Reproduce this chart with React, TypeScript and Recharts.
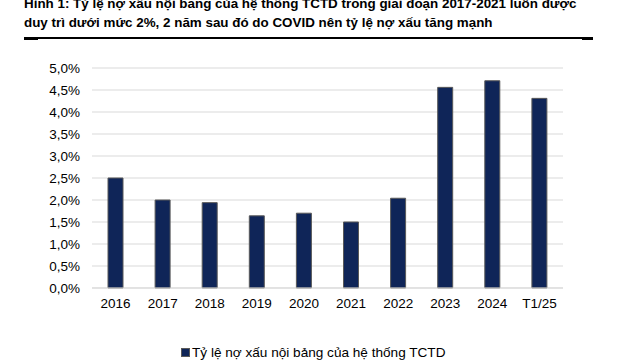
import React from 'react';
import { BarChart, Bar, XAxis, YAxis, CartesianGrid, Legend } from 'recharts';

const categories = ['2016', '2017', '2018', '2019', '2020', '2021', '2022', '2023', '2024', 'T1/25'];
const nplRatio = [2.5, 2.0, 1.94, 1.64, 1.7, 1.5, 2.04, 4.56, 4.71, 4.31];
const yTicks = [0, 0.5, 1, 1.5, 2, 2.5, 3, 3.5, 4, 4.5, 5];
const seriesName = 'Tỷ lệ nợ xấu nội bảng của hệ thống TCTD';
const titleLine1 = 'Hình 1:  Tỷ lệ nợ xấu nội bảng của hệ thống TCTD trong giai đoạn 2017-2021 luôn được';
const titleLine2 = 'duy trì dưới mức 2%, 2 năm sau đó do COVID nên tỷ lệ nợ xấu tăng mạnh';

const data = categories.map((c, i) => ({ name: c, value: nplRatio[i] }));

const NAVY = '#0F2558';
const FONT = '"Liberation Sans", Arial, sans-serif';

const fmt = (v: number) => v.toFixed(1).replace('.', ',') + '%';

export default function App() {
  return (
    <div style={{ position: 'absolute', left: 0, top: 0, width: 640, height: 360, overflow: 'hidden', background: '#fff', fontFamily: FONT }}>
      <div style={{ position: 'absolute', left: 24, top: -6, height: 19, lineHeight: '19px', fontSize: 13.4, fontWeight: 'bold', whiteSpace: 'nowrap', color: '#000' }}>{titleLine1}</div>
      <div style={{ position: 'absolute', left: 24, top: 13, height: 19, lineHeight: '19px', fontSize: 13.4, fontWeight: 'bold', whiteSpace: 'nowrap', color: '#000' }}>{titleLine2}</div>
      <div style={{ position: 'absolute', left: 24, top: 37, width: 569, height: 2, background: '#000' }} />
      <div style={{ position: 'absolute', left: 24, top: 37, width: 14, height: 3, background: '#000' }} />
      <div style={{ position: 'absolute', left: 582, top: 37, width: 11, height: 3, background: '#000' }} />
      <div style={{ position: 'absolute', left: 0, top: 0 }}>
        <BarChart width={640} height={360} data={data} margin={{ top: 68, right: 77, bottom: 42, left: 0 }}>
          <CartesianGrid vertical={false} stroke="#d9d9d9" strokeWidth={1} />
          <XAxis
            dataKey="name"
            tickLine={false}
            axisLine={{ stroke: '#d9d9d9' }}
            tick={{ fill: '#000', fontSize: 13.5, fontFamily: FONT }}
            tickMargin={4}
            interval={0}
            height={30}
          />
          <YAxis
            width={92}
            domain={[0, 5]}
            ticks={yTicks}
            tickFormatter={fmt}
            axisLine={false}
            tickLine={false}
            tickMargin={6}
            tick={{ fill: '#000', fontSize: 13.5, fontFamily: FONT }}
            interval={0}
          />
          <Legend
            layout="horizontal"
            verticalAlign="middle"
            align="center"
            wrapperStyle={{ top: 343, left: 181, width: 330, height: 18 }}
            content={() => (
              <div style={{ display: 'flex', alignItems: 'center', height: 18, fontSize: 13.6, color: '#000', fontFamily: FONT, whiteSpace: 'nowrap' }}>
                <span style={{ display: 'inline-block', width: 7, height: 7, background: NAVY, border: '0.5px solid #595959', marginRight: 2 }} />
                <span>{seriesName}</span>
              </div>
            )}
          />
          <Bar dataKey="value" name={seriesName} fill={NAVY} stroke="#595959" strokeWidth={1} barSize={15} isAnimationActive={false} />
        </BarChart>
      </div>
    </div>
  );
}
